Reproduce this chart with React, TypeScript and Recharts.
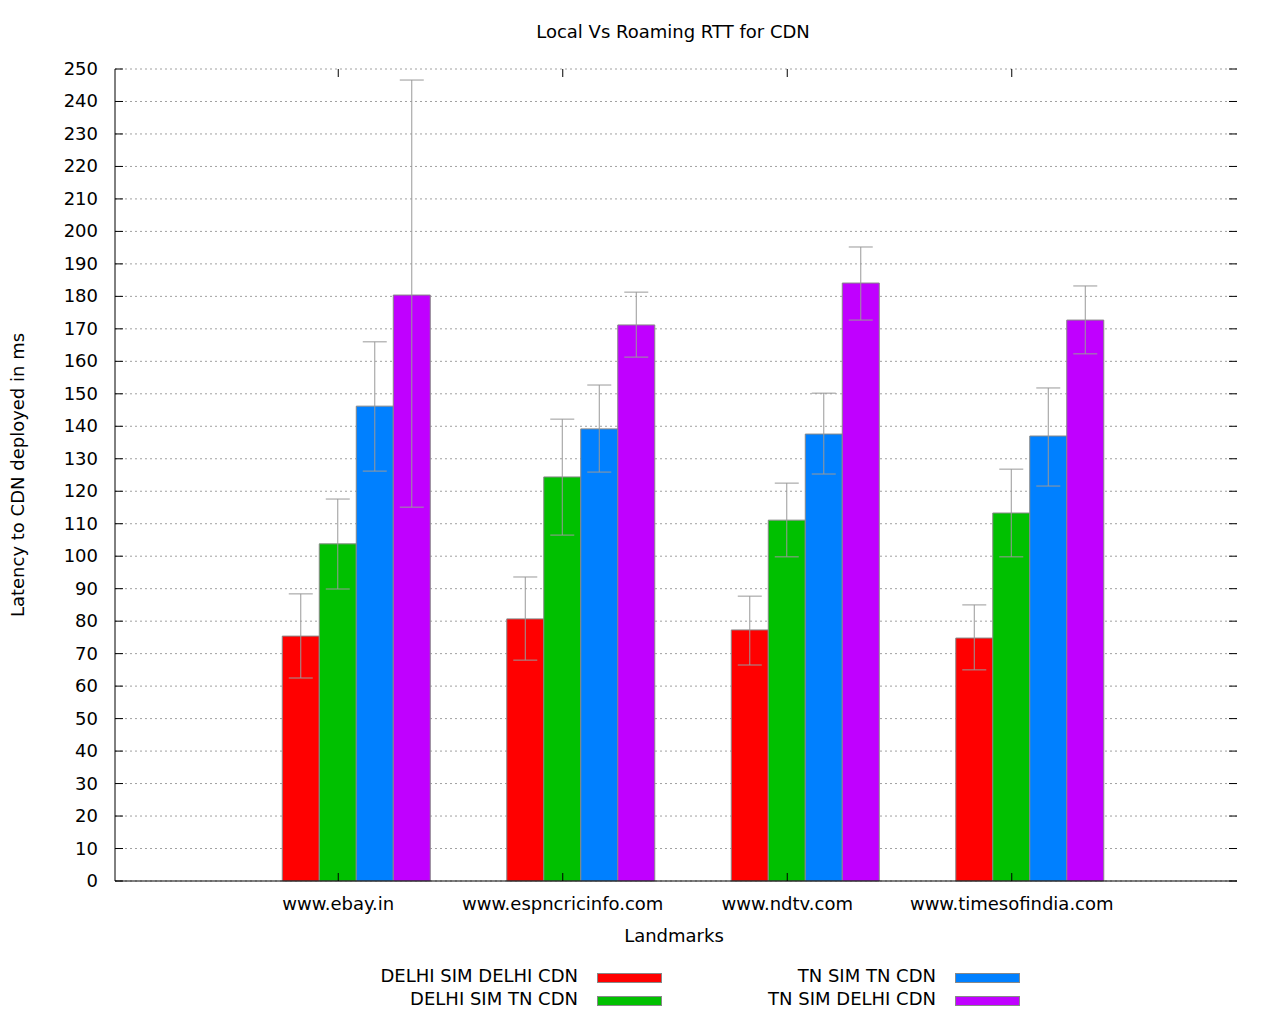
import { BarChart, Bar, XAxis, YAxis, CartesianGrid, ErrorBar } from 'recharts'

const sites = ['www.ebay.in', 'www.espncricinfo.com', 'www.ndtv.com', 'www.timesofindia.com']
const delhiDelhi = [75.4, 80.7, 77.3, 74.8]
const delhiDelhiErr = [[12.9, 13.0], [12.7, 12.9], [10.8, 10.4], [9.8, 10.2]]
const delhiTn = [103.8, 124.4, 111.1, 113.3]
const delhiTnErr = [[13.9, 13.8], [17.9, 17.8], [11.3, 11.4], [13.5, 13.5]]
const tnTn = [146.2, 139.2, 137.6, 137.0]
const tnTnErr = [[20.0, 19.8], [13.3, 13.5], [12.3, 12.6], [15.4, 14.8]]
const tnDelhi = [180.4, 171.2, 184.1, 172.7]
const tnDelhiErr = [[65.3, 66.2], [9.9, 10.1], [11.4, 11.1], [10.4, 10.5]]
const yTicks = [0, 10, 20, 30, 40, 50, 60, 70, 80, 90, 100, 110, 120, 130, 140, 150, 160, 170, 180, 190, 200, 210, 220, 230, 240, 250]

const data = sites.map((name, i) => ({
  name,
  dd: delhiDelhi[i], ddE: delhiDelhiErr[i],
  dt: delhiTn[i], dtE: delhiTnErr[i],
  tt: tnTn[i], ttE: tnTnErr[i],
  td: tnDelhi[i], tdE: tnDelhiErr[i],
}))

const FONT = 'DejaVu Sans, sans-serif'
const SHIFT = 19

const XTick = (p: any) => (
  <g>
    <line x1={p.x - SHIFT} x2={p.x - SHIFT} y1={881} y2={873} stroke="#000" />
    <line x1={p.x - SHIFT} x2={p.x - SHIFT} y1={69} y2={77} stroke="#000" />
    <text x={p.x - SHIFT} y={910} textAnchor="middle" fontSize={18} fontFamily={FONT} fill="#000">{p.payload.value}</text>
  </g>
)

const YTick = (p: any) => (
  <g>
    <line x1={115} x2={123} y1={p.y} y2={p.y} stroke="#000" />
    <line x1={1229} x2={1237} y1={p.y} y2={p.y} stroke="#000" />
    <text x={98} y={p.y + 6} textAnchor="end" fontSize={18} fontFamily={FONT} fill="#000">{p.payload.value}</text>
  </g>
)

const series = [
  { key: 'dd', err: 'ddE', color: '#ff0000', label: 'DELHI SIM DELHI CDN' },
  { key: 'dt', err: 'dtE', color: '#00c000', label: 'DELHI SIM TN CDN' },
  { key: 'tt', err: 'ttE', color: '#0080ff', label: 'TN SIM TN CDN' },
  { key: 'td', err: 'tdE', color: '#c000ff', label: 'TN SIM DELHI CDN' },
]

const txt: React.CSSProperties = { position: 'absolute', fontFamily: FONT, fontSize: 18, color: '#000', whiteSpace: 'nowrap' }

function LegendItem({ s, right, top }: { s: typeof series[0]; right: number; top: number }) {
  return (
    <>
      <div style={{ ...txt, right: 1280 - right, top }}>{s.label}</div>
      <div style={{ position: 'absolute', left: right + 19, top: top + 8, width: 65, height: 10, background: s.color, border: '1px solid #888', boxSizing: 'border-box' }} />
    </>
  )
}

export default function App() {
  return (
    <div style={{ position: 'absolute', left: 0, top: 0, width: 1280, height: 1024, background: '#fff' }}>
      <BarChart width={1280} height={1024} data={data} barGap={0} barCategoryGap="16.6%"
        margin={{ top: 69, left: 55, right: 43, bottom: 113 }}>
        <CartesianGrid vertical={false} stroke="#a0a0a0" strokeDasharray="2 3" />
        <XAxis dataKey="name" height={30} padding={{ left: 130, right: 94 }} tickLine={false} tick={<XTick />} axisLine={{ stroke: '#000' }} />
        <XAxis xAxisId="top" orientation="top" dataKey="name" height={0} tick={false} tickLine={false} axisLine={{ stroke: '#000' }} />
        <YAxis domain={[0, 250]} ticks={yTicks} width={60} tickLine={false} tick={<YTick />} axisLine={{ stroke: '#000' }} interval={0} />
        <YAxis yAxisId="right" orientation="right" width={0} tick={false} tickLine={false} axisLine={{ stroke: '#000' }} />
        {series.map(s => (
          <Bar key={s.key} dataKey={s.key} fill={s.color} stroke="#888" strokeWidth={1} isAnimationActive={false}>
            <ErrorBar dataKey={s.err} width={12} stroke="#999" strokeWidth={1} />
          </Bar>
        ))}
      </BarChart>
      <div style={{ ...txt, left: 0, width: 1346, textAlign: 'center', top: 21 }}>Local Vs Roaming RTT for CDN</div>
      <div style={{ ...txt, left: 0, width: 1348, textAlign: 'center', top: 925 }}>Landmarks</div>
      <div style={{ ...txt, left: 17, top: 475, transform: 'translate(-50%, -50%) rotate(-90deg)' }}>Latency to CDN deployed in ms</div>
      <LegendItem s={series[0]} right={578} top={965} />
      <LegendItem s={series[1]} right={578} top={988} />
      <LegendItem s={series[2]} right={936} top={965} />
      <LegendItem s={series[3]} right={936} top={988} />
    </div>
  )
}
